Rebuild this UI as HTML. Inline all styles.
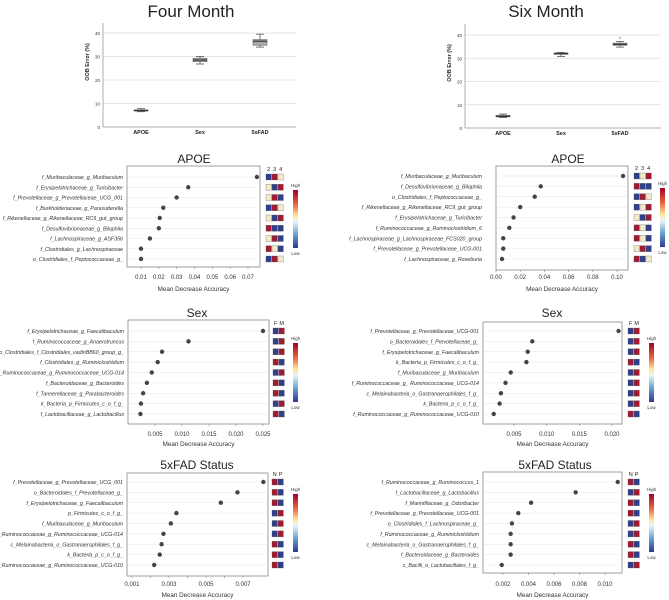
<!DOCTYPE html>
<html><head><meta charset="utf-8">
<style>
html,body{margin:0;padding:0;background:#fff;}
svg{display:block;font-family:"Liberation Sans",sans-serif;}
</style></head>
<body>
<svg id="fig" width="669" height="600" viewBox="0 0 669 600"></svg>
<script>
// ---- Boxplot data (OOB error %) ----
const boxCats = ["APOE","Sex","5xFAD"];
const box4Min = [6.5, 26.8, 34.0];
const box4Q1  = [6.8, 27.8, 34.8];
const box4Med = [7.0, 28.5, 36.5];
const box4Q3  = [7.3, 29.3, 37.2];
const box4Max = [7.8, 30.0, 39.5];
const box6Min = [4.5, 30.8, 34.8];
const box6Q1  = [4.8, 31.7, 35.6];
const box6Med = [5.0, 32.0, 36.0];
const box6Q3  = [5.5, 32.3, 36.5];
const box6Max = [6.0, 32.5, 37.2];
const box6Out = [null, null, 38.8];
const boxTicks = [0,10,20,30,40];

// ---- Dot plot data ----
const apoe4Labels = ["f_Muribaculaceae_g_Muribaculum","f_Erysipelotrichaceae_g_Turicibacter","f_Prevotellaceae_g_Prevotellaceae_UCG_001","f_Burkholderiaceae_g_Parasutterella","f_Rikenellaceae_g_Rikenellaceae_RC9_gut_group","f_Desulfovibrionaceae_g_Bilophila","f_Lachnospiraceae_g_ASF356","f_Clostridiales_g_Lachnospiraceae","o_Clostridiales_f_Peptococcaceae_g_"];
const apoe4Values = [0.075,0.0365,0.030,0.0225,0.0205,0.020,0.015,0.010,0.010];
const apoe4Heat = ["BRY","YBR","YRB","BRY","YBR","RBB","YRB","RYB","BRY"];
const apoe4Ticks = [0.01,0.02,0.03,0.04,0.05,0.06,0.07];
const apoe4TickLabels = ["0.01","0.02","0.03","0.04","0.05","0.06","0.07"];

const apoe6Labels = ["f_Muribaculaceae_g_Muribaculum","f_Desulfovibrionaceae_g_Bilophila","o_Clostridiales_f_Peptococcaceae_g_","f_Rikenellaceae_g_Rikenellaceae_RC9_gut_group","f_Erysipelotrichaceae_g_Turicibacter","f_Ruminococcaceae_g_Ruminoclostridium_6","f_Lachnospiraceae_g_Lachnospiraceae_FCS020_group","f_Prevotellaceae_g_Prevotellaceae_UCG-001","f_Lachnospiraceae_g_Roseburia"];
const apoe6Values = [0.105,0.037,0.032,0.020,0.0145,0.011,0.006,0.006,0.005];
const apoe6Heat = ["BYR","RBB","BRY","BYR","YBR","RYB","RYB","YRB","RBY"];
const apoe6Ticks = [0,0.02,0.04,0.06,0.08,0.10];
const apoe6TickLabels = ["0.00","0.02","0.04","0.06","0.08","0.10"];

const sex4Labels = ["f_Erysipelotrichaceae_g_Faecalibaculum","f_Ruminococcaceae_g_Anaerotruncus","o_Clostridiales_f_Clostridiales_vadinBB60_group_g_","f_Clostridiales_g_Ruminiclostridium","f_Ruminococcaceae_g_Ruminococcaceae_UCG-014","f_Bacteroidaceae_g_Bacteroides","f_Tannerellaceae_g_Parabacteroides","k_Bacteria_p_Firmicutes_c_o_f_g_","f_Lactobacillaceae_g_Lactobacillus"];
const sex4Values = [0.025,0.0112,0.0063,0.0055,0.0044,0.0035,0.0028,0.0024,0.0023];
const sex4Heat = ["BR","BR","BR","RB","BR","RB","RB","BR","RB"];
const sex4Ticks = [0.005,0.010,0.015,0.020,0.025];
const sex4TickLabels = ["0.005","0.010","0.015","0.020","0.025"];

const sex6Labels = ["f_Prevotellaceae_g_Prevotellaceae_UCG-001","o_Bacteroidales_f_Prevotellaceae_g_","f_Erysipelotrichaceae_g_Faecalibaculum","k_Bacteria_p_Firmicutes_c_o_f_g_","f_Muribaculaceae_g_Muribaculum","f_Ruminococcaceae_g_ Ruminococcaceae_UCG-014","c_Melainabacteria_o_Gastranaerophilales_f_g_","k_Bacteria_p_c_o_f_g_","f_Ruminococcaceae_g_Ruminococcaceae_UCG-010"];
const sex6Values = [0.021,0.0078,0.0071,0.0069,0.0045,0.0037,0.003,0.0028,0.0019];
const sex6Heat = ["BR","BR","BR","RB","BR","BR","BR","BR","RB"];
const sex6Ticks = [0.005,0.010,0.015,0.020];
const sex6TickLabels = ["0.005","0.010","0.015","0.020"];

const fad4Labels = ["f_Prevotellaceae_g_Prevotellaceae_UCG_001","o_Bacteroidales_f_Prevotellaceae_g_","f_Erysipelotrichaceae_g_Faecalibaculum","p_Firmicutes_c_o_f_g_","f_Muribaculaceae_g_Muribaculum","f_Ruminococcaceae_g_Ruminococcaceae_UCG-014","c_Melainabacteria_o_Gastranaerophilales_f_g_","k_Bacteria_p_c_o_f_g_","f_Ruminococcaceae_g_Ruminococcaceae_UCG-010"];
const fad4Values = [0.0081,0.0067,0.0058,0.0034,0.0031,0.0027,0.0026,0.0025,0.0022];
const fad4Heat = ["RB","RB","RB","BR","BR","BR","RB","RB","RB"];
const fad4Ticks = [0.001,0.002,0.003,0.004,0.005,0.006,0.007];
const fad4TickLabels = ["0.001","","0.003","","0.005","","0.007"];

const fad6Labels = ["f_Ruminococcaceae_g_Ruminococcus_1","f_Lactobacillaceae_g_Lactobacillus","f_Marinifilaceae_g_Odoribacter","f_Prevotellaceae_g_Prevotellaceae_UCG-001","o_Clostridiales_f_Lachnospiraceae_g_","f_Ruminococcaceae_g_Ruminiclostridium","c_Melainabacteria_o_Gastranaerophilales_f_g_","f_Bacteroidaceae_g_Bacteroides","c_Bacilli_o_Lactobacillales_f_g_"];
const fad6Values = [0.011,0.0077,0.0042,0.0032,0.0027,0.0026,0.0026,0.0026,0.0019];
const fad6Heat = ["RB","BR","RB","RB","BR","BR","RB","RB","BR"];
const fad6Ticks = [0.002,0.004,0.006,0.008,0.010];
const fad6TickLabels = ["0.002","0.004","0.006","0.008","0.010"];

const NS="http://www.w3.org/2000/svg";
const svg=document.getElementById('fig');
function mk(tag,attrs,parent,txt){const e=document.createElementNS(NS,tag);for(const k in attrs)e.setAttribute(k,attrs[k]);if(txt!==undefined)e.textContent=txt;(parent||svg).appendChild(e);return e;}
const COL={B:"#2f3f8c",R:"#a11a30",Y:"#f3ebc8"};

// gradient for colorbar
const defs=mk('defs',{});
const lg=mk('linearGradient',{id:'cbar',x1:0,y1:0,x2:0,y2:1},defs);
[["0","#a50026"],["0.25","#e8663f"],["0.45","#fee99a"],["0.55","#e8f5f8"],["0.75","#6fa8d0"],["1","#313695"]].forEach(s=>mk('stop',{offset:s[0],'stop-color':s[1]},lg));

// ---- Boxplots ----
function boxplot(cfg,mins,q1,med,q3,maxs,outs){
  const g=mk('g',{});
  
  
  const y=v=>cfg.y0+(cfg.y40-cfg.y0)*v/40;
  const t=mk('text',{x:cfg.titleX,y:17,'font-size':17,'text-anchor':'middle',fill:'#222'},g,cfg.title);
  
  
  boxTicks.forEach(v=>{
    if(v>0) mk('line',{x1:cfg.ax,x2:cfg.right,y1:y(v),y2:y(v),stroke:'#ddd','stroke-width':0.8},g);
    const tl=mk('text',{x:cfg.ax-3,y:y(v)+2,'font-size':4.5,'text-anchor':'end',fill:'#333'},g,String(v));
    
    
  });
  mk('line',{x1:cfg.ax,x2:cfg.ax,y1:cfg.top,y2:cfg.y0,stroke:'#999','stroke-width':0.8},g);
  mk('line',{x1:cfg.ax,x2:cfg.right,y1:cfg.y0,y2:cfg.y0,stroke:'#999','stroke-width':0.8},g);
  const yl=mk('text',{x:cfg.ylx,y:cfg.ylY,'font-size':5.5,'font-weight':'bold','text-anchor':'middle',transform:`rotate(-90 ${cfg.ylx} ${cfg.ylY})`,fill:'#222'},g,'OOB Error (%)');
  
  
  boxCats.forEach((c,i)=>{
    const cx=cfg.catX[i],w=7;
    const bg=mk('g',{},g);
    
    
    mk('line',{x1:cx,x2:cx,y1:y(mins[i]),y2:y(maxs[i]),stroke:'#555','stroke-width':0.8},bg);
    mk('line',{x1:cx-4,x2:cx+4,y1:y(mins[i]),y2:y(mins[i]),stroke:'#555','stroke-width':0.8},bg);
    mk('line',{x1:cx-4,x2:cx+4,y1:y(maxs[i]),y2:y(maxs[i]),stroke:'#555','stroke-width':0.8},bg);
    mk('rect',{x:cx-w,y:y(q3[i]),width:2*w,height:Math.max(1,y(q1[i])-y(q3[i])),fill:'#aaa',stroke:'#666','stroke-width':0.6},bg);
    mk('line',{x1:cx-w,x2:cx+w,y1:y(med[i]),y2:y(med[i]),stroke:'#333','stroke-width':1.2},bg);
    if(outs&&outs[i]!=null) mk('circle',{cx:cx,cy:y(outs[i]),r:0.9,fill:'none',stroke:'#888','stroke-width':0.5},bg);
    const cl=mk('text',{x:cx,y:cfg.y0+7,'font-size':5.5,'font-weight':'bold','text-anchor':'middle',fill:'#222'},g,c);
    
    
  });
}
boxplot({name:'four-month-boxplot',title:'Four Month',titleX:191,ax:103,right:296,top:23,y0:127,y40:33,ylx:89,ylY:62,catX:[141,200,260]},box4Min,box4Q1,box4Med,box4Q3,box4Max,null);
boxplot({name:'six-month-boxplot',title:'Six Month',titleX:546,ax:465,right:661,top:24,y0:128,y40:35,ylx:451,ylY:63,catX:[503,561,620]},box6Min,box6Q1,box6Med,box6Q3,box6Max,box6Out);

// ---- Dot plots ----
function dotplot(cfg,labels,values,heat,ticks,tickLabels){
  const g=mk('g',{});
  
  
  const x=v=>cfg.xa+(cfg.xb-cfg.xa)*(v-cfg.va)/(cfg.vb-cfg.va);
  const n=labels.length;
  const ry=i=>cfg.r0+(cfg.r1-cfg.r0)*i/(n-1);
  const t=mk('text',{x:cfg.titleX,y:cfg.titleY,'font-size':12,'text-anchor':'middle',fill:'#222'},g,cfg.title);
  
  
  mk('rect',{x:cfg.bx0,y:cfg.by0,width:cfg.bx1-cfg.bx0,height:cfg.by1-cfg.by0,fill:'#fff',stroke:'#888','stroke-width':0.8},g);
  labels.forEach((lab,i)=>{
    mk('line',{x1:cfg.bx0,x2:cfg.bx1,y1:ry(i),y2:ry(i),stroke:'#ccc','stroke-width':0.5,'stroke-dasharray':'1 1'},g);
    const tl=mk('text',{x:cfg.lx,y:ry(i)+2,'font-size':5.3,'font-style':'italic','text-anchor':'end',fill:'#333'},g,lab);
    
    
    const d=mk('circle',{cx:x(values[i]),cy:ry(i),r:2.2,fill:'#444'},g);
    
    
    const cells=heat[i].split('');
    const cw=6;
    cells.forEach((c,j)=>{
      const r=mk('rect',{x:cfg.hx+j*cw,y:ry(i)-3,width:cw-0.6,height:6,fill:COL[c],stroke:'#555','stroke-width':0.3},g);
      
      
    });
  });
  cfg.groups.forEach((gname,j)=>{
    const h=mk('text',{x:cfg.hx+j*6+2.7,y:cfg.r0-6,'font-size':5.5,'text-anchor':'middle',fill:'#222'},g,gname);
    
    
  });
  ticks.forEach((v,i)=>{
    mk('line',{x1:x(v),x2:x(v),y1:cfg.by1,y2:cfg.by1+2,stroke:'#888','stroke-width':0.6},g);
    if(tickLabels[i]){
      const tl=mk('text',{x:x(v),y:cfg.ty,'font-size':6,'text-anchor':'middle',fill:'#333'},g,tickLabels[i]);
      
      
    }
  });
  const at=mk('text',{x:(cfg.bx0+cfg.bx1)/2,y:cfg.aty,'font-size':6.3,'text-anchor':'middle',fill:'#333'},g,'Mean Decrease Accuracy');
  
  
  const cb=mk('rect',{x:cfg.cbx,y:cfg.cby0,width:5,height:cfg.cby1-cfg.cby0,fill:'url(#cbar)'},g);
  
  
  const hi=mk('text',{x:cfg.cbx+2.5,y:cfg.cby0-3,'font-size':4.5,'text-anchor':'middle',fill:'#333'},g,'High');
  
  
  const lo=mk('text',{x:cfg.cbx+2.5,y:cfg.cby1+7,'font-size':4.5,'text-anchor':'middle',fill:'#333'},g,'Low');
  
  
}
dotplot({name:'apoe-four-month',title:'APOE',titleX:194,titleY:163,bx0:127,bx1:260,by0:166,by1:267,xa:141,xb:248,va:0.01,vb:0.07,r0:177,r1:259,lx:123,hx:266,groups:['2','3','4'],ty:279,aty:291,cbx:293,cby0:190,cby1:248},apoe4Labels,apoe4Values,apoe4Heat,apoe4Ticks,apoe4TickLabels);
dotplot({name:'apoe-six-month',title:'APOE',titleX:568,titleY:163,bx0:496,bx1:628,by0:166,by1:270,xa:496,xb:617,va:0,vb:0.10,r0:176,r1:259,lx:482,hx:634,groups:['2','3','4'],ty:279,aty:291,cbx:660,cby0:188,cby1:247},apoe6Labels,apoe6Values,apoe6Heat,apoe6Ticks,apoe6TickLabels);
dotplot({name:'sex-four-month',title:'Sex',titleX:197,titleY:317,bx0:128,bx1:269,by0:320,by1:424,xa:155,xb:263,va:0.005,vb:0.025,r0:331,r1:414,lx:124,hx:273,groups:['F','M'],ty:436,aty:446,cbx:293,cby0:343,cby1:402},sex4Labels,sex4Values,sex4Heat,sex4Ticks,sex4TickLabels);
dotplot({name:'sex-six-month',title:'Sex',titleX:552,titleY:317,bx0:483,bx1:622,by0:322,by1:424,xa:514,xb:612,va:0.005,vb:0.020,r0:331,r1:414,lx:479,hx:628,groups:['F','M'],ty:436,aty:446,cbx:649,cby0:343,cby1:402},sex6Labels,sex6Values,sex6Heat,sex6Ticks,sex6TickLabels);
dotplot({name:'5xfad-four-month',title:'5xFAD Status',titleX:197,titleY:469,bx0:127,bx1:268,by0:473,by1:576,xa:132,xb:243,va:0.001,vb:0.007,r0:482,r1:565,lx:123,hx:272,groups:['N','P'],ty:586,aty:597,cbx:293,cby0:494,cby1:552},fad4Labels,fad4Values,fad4Heat,fad4Ticks,fad4TickLabels);
dotplot({name:'5xfad-six-month',title:'5xFAD Status',titleX:555,titleY:469,bx0:483,bx1:622,by0:472,by1:573,xa:503,xb:605,va:0.002,vb:0.010,r0:482,r1:565,lx:479,hx:628,groups:['N','P'],ty:586,aty:597,cbx:649,cby0:494,cby1:552},fad6Labels,fad6Values,fad6Heat,fad6Ticks,fad6TickLabels);
</script>
</body></html>
